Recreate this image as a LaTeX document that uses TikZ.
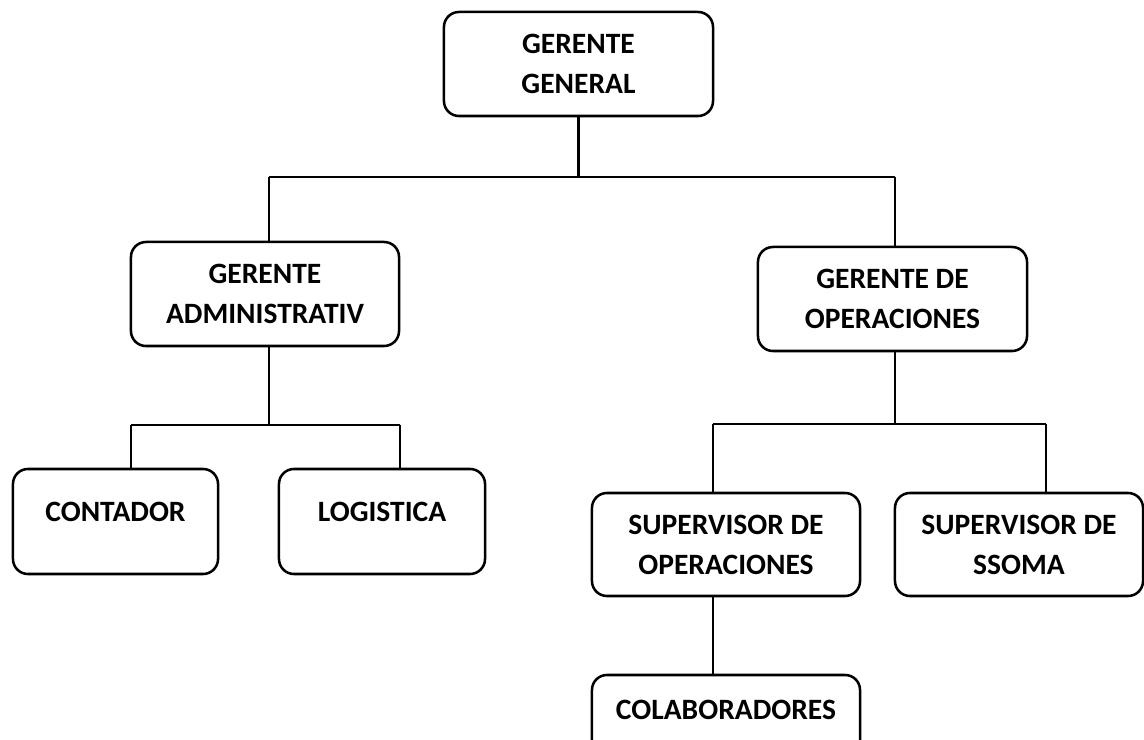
\documentclass[tikz,border=0pt]{standalone}
\usepackage{fontspec}
\setmainfont{Carlito}
\usepackage{tikz}
\usetikzlibrary{calc}
\usetikzlibrary{positioning}
\tikzset{
  cargo/.style={draw, line width=1.8pt, rounded corners=0.375cm, align=center,
    inner sep=0pt, font=\fontsize{21}{28.5}\selectfont\bfseries},
  enlace/.style={line width=1.5pt}
}

\begin{document}
\begin{tikzpicture}[x=0.025cm, y=-0.025cm]
\clip (0,0) rectangle (1144,740);

       \node[cargo, minimum width=6.725cm, minimum height=2.6cm] (GG) at (578.5,64) {GERENTE\\GENERAL};
       
       \node[cargo, minimum width=6.7cm, minimum height=2.6cm] (GA) at (265,294) {GERENTE\\ADMINISTRATIV};
       
       \node[cargo, minimum width=6.725cm, minimum height=2.6cm] (GO) at (892.5,299) {GERENTE DE\\OPERACIONES};
       
       \node[cargo, minimum width=5.125cm, minimum height=2.625cm, text depth=0.475cm] (CON) at (115.5,521.5) {CONTADOR};
       
       \node[cargo, minimum width=5.15cm, minimum height=2.625cm, text depth=0.475cm] (LOG) at (382,521.5) {LOGISTICA};
       
       \node[cargo, minimum width=6.7cm, minimum height=2.575cm] (SO) at (726,544.5) {SUPERVISOR DE\\OPERACIONES};
       
       \node[cargo, minimum width=6.2cm, minimum height=2.575cm] (SS) at (1019,544.5) {SUPERVISOR DE\\SSOMA};
       
       \node[cargo, minimum width=6.7cm, minimum height=2.575cm, text depth=0.825cm] (COL) at (726,726.5) {COLABORADORES};
       
       % barras horizontales
       \coordinate (b1) at (269,177);
       \coordinate (b2) at (895,177);
       \coordinate (b3) at (131,425);
       \coordinate (b4) at (400,425);
       \coordinate (b5) at (713,424);
       \coordinate (b6) at (1046,424);
       
       \draw[enlace] (GG.south) -- (GG.south |- b1);
       \draw[enlace] (b1) -- (b2);
       \draw[enlace] (b1) -- (b1 |- GA.north);
       \draw[enlace] (b2) -- (b2 |- GO.north);
       
       \draw[enlace] (b1 |- GA.south) -- (b1 |- b3);
       \draw[enlace] (b3) -- (b4);
       \draw[enlace] (b3) -- (b3 |- CON.north);
       \draw[enlace] (b4) -- (b4 |- LOG.north);
       
       \draw[enlace] (b2 |- GO.south) -- (b2 |- b5);
       \draw[enlace] (b5) -- (b6);
       \draw[enlace] (b5) -- (b5 |- SO.north);
       \draw[enlace] (b6) -- (b6 |- SS.north);
       
       \draw[enlace] (b5 |- SO.south) -- (b5 |- COL.north);
\end{tikzpicture}
\end{document}
